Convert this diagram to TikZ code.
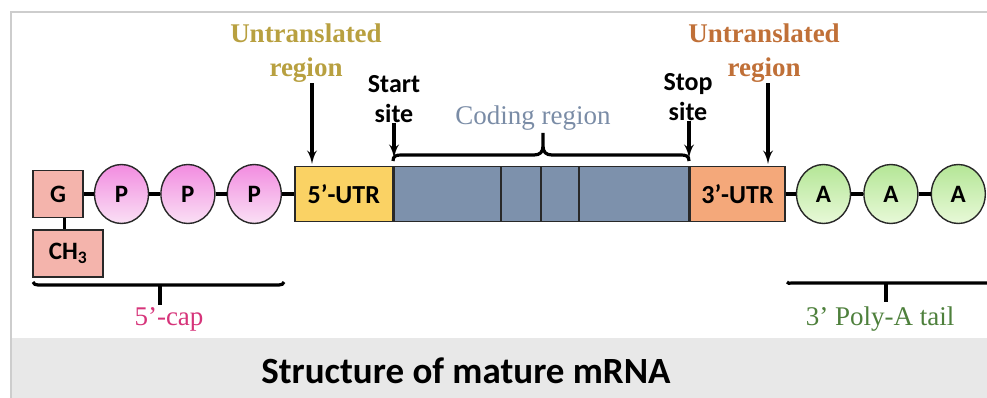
\documentclass[tikz,border=0pt]{standalone}
\usepackage{fontspec}
\setmainfont{Liberation Serif}
\newfontfamily\calib{Carlito}
\usepackage{tikz}
\usetikzlibrary{calc,positioning,shapes.geometric,arrows}
\definecolor{gbox}{RGB}{244,180,172}
\definecolor{pin}{RGB}{250,224,245}
\definecolor{pout}{RGB}{242,140,224}
\definecolor{ain}{RGB}{232,249,216}
\definecolor{aout}{RGB}{180,230,150}
\definecolor{utrfive}{RGB}{250,210,100}
\definecolor{coding}{RGB}{125,145,172}
\definecolor{utrthree}{RGB}{244,168,122}
\definecolor{utrlabl}{RGB}{184,160,64}
\definecolor{utrlabr}{RGB}{192,112,56}
\definecolor{codlab}{RGB}{122,140,166}
\definecolor{caplab}{RGB}{214,52,122}
\definecolor{taillab}{RGB}{78,128,60}
\definecolor{boxline}{RGB}{40,40,40}
\definecolor{framegray}{RGB}{205,205,205}
\definecolor{bandgray}{RGB}{232,232,232}
\tikzstyle{capbox} = [rectangle, draw=boxline, line width=1.6pt, fill=gbox, inner sep=0pt, font=\calib\bfseries\fontsize{25}{25}\selectfont]
\tikzstyle{phos} = [ellipse, draw=boxline, line width=1.4pt, minimum width=54pt, minimum height=59pt, inner sep=0pt, top color=pout, bottom color=pin, font=\calib\bfseries\fontsize{25}{25}\selectfont]
\tikzstyle{adeno} = [phos, top color=aout, bottom color=ain]
\tikzstyle{region} = [rectangle, draw=boxline, line width=1.6pt, minimum height=55pt, inner sep=0pt, font=\calib\bfseries\fontsize{26}{26}\selectfont]
\tikzstyle{serlab} = [align=center, inner sep=0pt, font=\fontsize{27}{34}\selectfont]
\tikzstyle{utrlab} = [align=center, inner sep=0pt, font=\fontsize{27}{34}\selectfont\bfseries]
\tikzstyle{sitelab} = [align=center, inner sep=0pt, font=\calib\bfseries\fontsize{26}{30}\selectfont]
\tikzstyle{link} = [draw, line width=3pt]
\tikzstyle{line} = [draw, line width=3.6pt, -latex']

\begin{document}
\begin{tikzpicture}[x=1pt, y=-1pt, node distance=13pt]
    \useasboundingbox (0,0) rectangle (987,398);
    % Frame and title band
    \fill[bandgray] (11,338) rectangle (987,398);
    \draw[framegray, line width=2pt] (11,398) -- (11,12) -- (987,12);
    \node [anchor=base, inner sep=0pt, font=\calib\bfseries\fontsize{37}{37}\selectfont] (title) at (466,383) {Structure of mature mRNA};
    % Cap
    \node [capbox, minimum width=50pt, minimum height=47pt] (g) at (58,194) {G};
    \node [capbox, minimum width=70pt, minimum height=47pt, below=11pt of g.south west, anchor=north west] (ch3) {CH\textsubscript{3}};
    \node [phos, right=10pt of g] (p1) {P};
    \node [phos, right=11pt of p1] (p2) {P};
    \node [phos, right=11pt of p2] (p3) {P};
    % Blocks
    \node [region, fill=utrfive, minimum width=98pt, right=12pt of p3] (utr5) {5’-UTR};
    \node [region, fill=coding, minimum width=294pt, right=0pt of utr5] (cds) {};
    \node [region, fill=utrthree, minimum width=95pt, right=0pt of cds] (utr3) {3’-UTR};
    \node [adeno, right=10pt of utr3] (a1) {A};
    \node [adeno, right=12pt of a1] (a2) {A};
    \node [adeno, right=12pt of a2] (a3) {A};
    \foreach \cx in {501,541,579}
        \draw[boxline, line width=1.6pt] (\cx,167) -- (\cx,222);
    % Links
    \path [link] (g) -- (p1);
    \path [link] (p1) -- (p2);
    \path [link] (p2) -- (p3);
    \path [link] (p3) -- (utr5);
    \path [link] (utr3) -- (a1);
    \path [link] (a1) -- (a2);
    \path [link] (a2) -- (a3);
    \path [link] ([xshift=6pt]g.south) -- ([xshift=6pt]g.south |- ch3.north);
    % Labels
    \node [utrlab, text=utrlabl, anchor=north] (utrl) at (306,24) {Untranslated\\region};
    \node [utrlab, text=utrlabr, anchor=north] (utrr) at (764,24) {Untranslated\\region};
    \node [sitelab, anchor=north] (start) at (394,75) {Start\\site};
    \node [sitelab, anchor=north] (stop) at (688,73) {Stop\\site};
    \node [serlab, text=codlab, anchor=base] (codl) at (533,125) {Coding region};
    \coordinate (t1) at (312,164);
    \coordinate (t2) at (394,158);
    \coordinate (t3) at (689,158);
    \coordinate (t4) at (768,164);
    \path [line] (utrl.south -| t1) -- (t1);
    \path [line] (start.south -| t2) -- (t2);
    \path [line] (stop.south -| t3) -- (t3);
    \path [line] (utrr.south -| t4) -- (t4);
    % Braces
    \draw[line width=3.2pt] (393,161) .. controls (393,156) and (396,155) .. (401,155) -- (534,155)
        .. controls (540,155) and (543,152) .. (543,146) -- (543,133)
        (543,146) .. controls (543,152) and (546,155) .. (552,155) -- (681,155)
        .. controls (686,155) and (689,156) .. (689,161);
    \draw[line width=3.2pt] (33,282) .. controls (34,284) and (35,285) .. (38,285) -- (279,285)
        .. controls (282,285) and (283,284) .. (284,282);
    \draw[line width=3.2pt] (160,285) -- (160,305);
    \node [serlab, text=caplab, anchor=base] (capl) at (169,325) {5’-cap};
    \draw[line width=3.2pt] (787,282) .. controls (788,284) and (789,283) .. (792,283) -- (987,283);
    \draw[line width=3.2pt] (886,283) -- (886,302);
    \node [serlab, text=taillab, anchor=base] (taill) at (880,325) {3’ Poly-A tail};
\end{tikzpicture}
\end{document}
